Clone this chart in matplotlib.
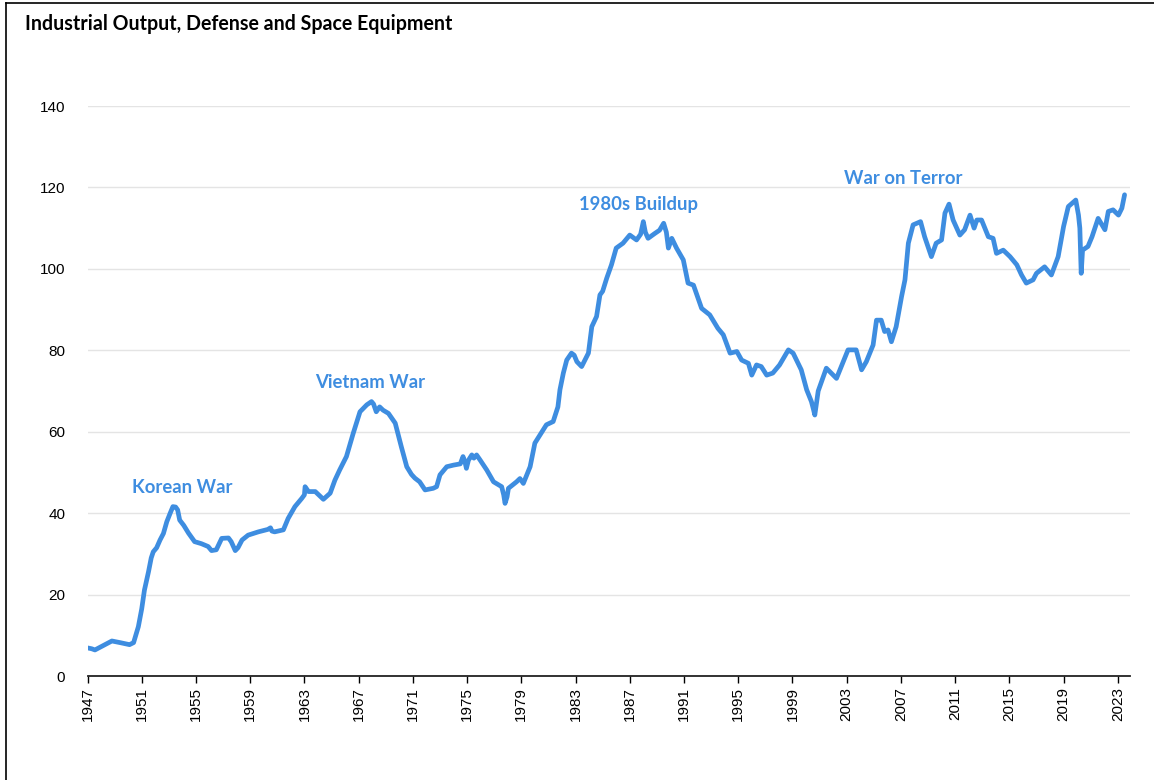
import matplotlib
matplotlib.use("Agg")
import matplotlib.pyplot as plt
from matplotlib.lines import Line2D

# ---- data (decimal year, index value) ----
years = [
    1947.0, 1947.3, 1947.55, 1948.0, 1948.4, 1948.8, 1949.1, 1949.4, 1949.8, 1950.1,
    1950.4, 1950.75, 1951.0, 1951.2, 1951.5, 1951.7, 1951.85, 1952.1, 1952.35, 1952.6,
    1952.85, 1953.1, 1953.3, 1953.5, 1953.65, 1953.8, 1954.1, 1954.45, 1954.9, 1955.4,
    1955.9, 1956.15, 1956.5, 1956.9, 1957.4, 1957.6, 1957.9, 1958.1, 1958.4, 1958.85,
    1959.6, 1960.3, 1960.5, 1960.6, 1960.8, 1961.45, 1961.8, 1962.3, 1962.8, 1963.0,
    1963.05, 1963.3, 1963.8, 1964.4, 1964.9, 1965.25, 1965.6, 1966.1, 1966.6, 1967.1,
    1967.6, 1967.95, 1968.1, 1968.3, 1968.55, 1968.8, 1969.2, 1969.7, 1970.15, 1970.55,
    1970.9, 1971.15, 1971.5, 1971.9, 1972.5, 1972.75, 1973.0, 1973.5, 1974.0, 1974.5,
    1974.7, 1974.85, 1974.95, 1975.1, 1975.35, 1975.5, 1975.7, 1975.95, 1976.45, 1976.95,
    1977.55, 1977.7, 1977.8, 1977.95, 1978.05, 1978.65, 1978.9, 1979.15, 1979.65, 1980.0,
    1980.6, 1980.85, 1981.35, 1981.7, 1981.85, 1982.1, 1982.35, 1982.7, 1982.9, 1983.1,
    1983.45, 1983.95, 1984.2, 1984.55, 1984.8, 1985.0, 1985.3, 1985.65, 1986.0, 1986.5,
    1987.0, 1987.5, 1987.8, 1988.0, 1988.15, 1988.35, 1988.85, 1989.2, 1989.5, 1989.7,
    1989.85, 1990.1, 1990.45, 1990.95, 1991.3, 1991.7, 1992.3, 1992.9, 1993.5, 1993.9,
    1994.4, 1994.9, 1995.25, 1995.75, 1996.0, 1996.35, 1996.7, 1997.1, 1997.55, 1998.05,
    1998.7, 1999.05, 1999.65, 2000.05, 2000.4, 2000.55, 2000.65, 2000.9, 2001.5, 2002.25,
    2002.6, 2003.1, 2003.7, 2004.1, 2004.45, 2004.95, 2005.2, 2005.55, 2005.8, 2006.05,
    2006.3, 2006.65, 2007.05, 2007.3, 2007.55, 2007.9, 2008.45, 2008.75, 2009.25, 2009.6,
    2010.0, 2010.25, 2010.55, 2010.85, 2011.35, 2011.7, 2012.1, 2012.4, 2012.6, 2012.95,
    2013.45, 2013.8, 2014.05, 2014.55, 2015.05, 2015.55, 2015.9, 2016.25, 2016.75, 2017.0,
    2017.6, 2018.1, 2018.6, 2019.0, 2019.35, 2019.9, 2020.1, 2020.2, 2020.3, 2020.4,
    2020.8, 2021.1, 2021.55, 2022.05, 2022.3, 2022.65, 2023.05, 2023.3, 2023.5,
]
values = [
    6.9, 6.7, 6.4, 7.2, 7.9, 8.6, 8.4, 8.2, 7.9, 7.7,
    8.2, 12.1, 16.5, 21.1, 25.6, 29.0, 30.5, 31.5, 33.4, 35.0,
    37.9, 40.0, 41.6, 41.5, 40.8, 38.3, 37.0, 35.1, 33.0, 32.5,
    31.8, 30.8, 31.0, 33.8, 33.9, 33.0, 30.8, 31.5, 33.4, 34.6,
    35.4, 36.0, 36.4, 35.6, 35.4, 35.9, 38.7, 41.6, 43.6, 44.5,
    46.5, 45.3, 45.3, 43.4, 44.9, 48.1, 50.6, 53.9, 59.6, 64.9,
    66.6, 67.4, 66.8, 64.9, 66.1, 65.3, 64.5, 62.1, 56.3, 51.4,
    49.5, 48.6, 47.7, 45.7, 46.1, 46.5, 49.4, 51.4, 51.8, 52.1,
    53.9, 52.5, 51.0, 53.0, 54.3, 53.5, 54.3, 53.1, 50.6, 47.7,
    46.5, 44.5, 42.4, 44.0, 46.1, 47.7, 48.5, 47.3, 51.4, 57.2,
    60.4, 61.7, 62.5, 66.1, 70.3, 74.4, 77.6, 79.3, 78.8, 77.2,
    76.0, 79.3, 85.8, 88.3, 93.6, 94.5, 97.7, 101.0, 105.1, 106.3,
    108.3, 107.1, 108.5, 111.6, 109.0, 107.5, 108.7, 109.5, 111.2, 109.0,
    105.1, 107.5, 105.1, 102.2, 96.5, 96.0, 90.3, 88.7, 85.4, 83.8,
    79.3, 79.7, 77.6, 76.8, 73.9, 76.4, 76.0, 73.9, 74.4, 76.4,
    80.1, 79.3, 75.2, 70.3, 67.4, 65.5, 64.1, 70.0, 75.6, 73.1,
    76.0, 80.1, 80.1, 75.2, 77.2, 81.3, 87.4, 87.4, 84.6, 85.0,
    82.1, 85.8, 93.2, 97.3, 106.3, 110.8, 111.6, 107.9, 103.0, 106.3,
    107.1, 113.7, 115.9, 112.0, 108.3, 109.6, 113.2, 110.0, 112.0, 112.0,
    107.9, 107.5, 103.8, 104.6, 103.0, 101.0, 98.5, 96.5, 97.3, 98.9,
    100.5, 98.5, 103.0, 110.4, 115.3, 116.9, 113.2, 110.0, 98.9, 104.6,
    105.5, 107.9, 112.4, 109.6, 114.1, 114.5, 113.2, 114.9, 118.2,
]

tick_years = list(range(1947, 2024, 4))
y_ticks = [0, 20, 40, 60, 80, 100, 120, 140]

title = "Industrial Output, Defense and Space Equipment"
annotation_texts = ["Korean War", "Vietnam War", "1980s Buildup", "War on Terror"]
annotation_x = [1954.0, 1967.85, 1987.65, 2007.2]
annotation_y = [46.4, 72.0, 115.7, 122.1]

LINE_COLOR = "#3e8de0"
TEXT_FONT = ["Lato", "DejaVu Sans"]
TICK_FONT = ["Liberation Sans", "DejaVu Sans"]

fig = plt.figure(figsize=(11.54, 7.80), dpi=100)
ax = fig.add_axes([87.5 / 1154, 104 / 780, (1130 - 87.5) / 1154, (676 - 106) / 780])

ax.plot(years, values, color=LINE_COLOR, lw=3.4, solid_joinstyle="round",
        solid_capstyle="round")

ax.set_xlim(1947, 2023.9)
ax.set_ylim(0, 140)
ax.set_yticks(y_ticks)
ax.set_xticks(tick_years)
ax.set_xticklabels([str(y) for y in tick_years], rotation=90, fontfamily=TICK_FONT,
                   fontsize=11, color="#000000")
ax.set_yticklabels([str(v) for v in y_ticks], fontfamily=TICK_FONT, fontsize=11,
                   color="#000000")
ax.tick_params(axis="y", length=0, pad=16)
ax.tick_params(axis="x", length=5, width=1.0, color="#000000", pad=3, direction="out")

for s in ["top", "right", "left"]:
    ax.spines[s].set_visible(False)
ax.spines["bottom"].set_color("#222222")
ax.spines["bottom"].set_linewidth(1.3)

ax.grid(axis="y", color="#e4e4e4", lw=1.0)
ax.grid(axis="x", visible=False)
ax.set_axisbelow(True)

for text, x, y in zip(annotation_texts, annotation_x, annotation_y):
    ax.text(x, y, text, color=LINE_COLOR, fontsize=13.3, fontweight="bold",
            fontfamily=TEXT_FONT, ha="center", va="center")

fig.text(25 / 1154, 1 - 24 / 780, title, fontsize=14.1, fontweight="bold",
         fontfamily=TEXT_FONT, color="#000000", ha="left", va="center")

# frame lines of the chart box (left and top)
fig.add_artist(Line2D([6 / 1154, 6 / 1154], [0, 1 - 3 / 780], transform=fig.transFigure,
                      color="#000000", lw=1.2))
fig.add_artist(Line2D([6 / 1154, 1], [1 - 3 / 780, 1 - 3 / 780], transform=fig.transFigure,
                      color="#000000", lw=1.2))

fig.savefig("out.png", dpi=100)
